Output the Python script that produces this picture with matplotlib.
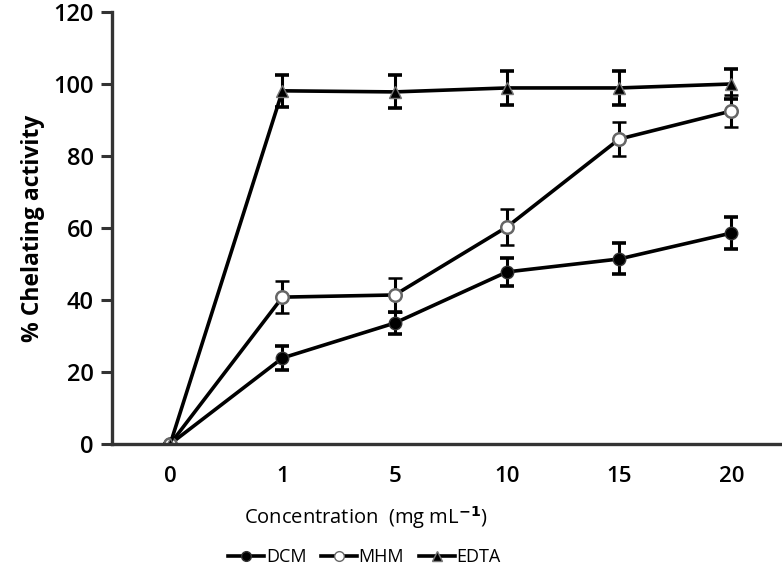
import matplotlib.pyplot as plt
from matplotlib.lines import Line2D
import numpy as np

plt.rcParams['font.family'] = ['Open Sans', 'DejaVu Sans']

concentrations = ['0', '1', '5', '10', '15', '20']

dcm = [0, 23.9, 33.6, 47.8, 51.4, 58.6]
dcm_err = [0, 3.3, 3.0, 4.0, 4.3, 4.4]

mhm = [0, 40.8, 41.4, 60.3, 84.7, 92.5]
mhm_err = [0, 4.4, 4.6, 5.0, 4.8, 4.4]

edta = [0, 98.1, 97.8, 98.9, 98.9, 100.0]
edta_err = [0, 4.4, 4.6, 4.8, 4.6, 4.2]

x = np.arange(len(concentrations))

fig = plt.figure(figsize=(7.82, 5.70), dpi=100)
ax = fig.add_axes([0.143, 0.221, 0.857, 0.758])

common = dict(color='black', lw=2.6, capsize=5, capthick=2.6, elinewidth=2.2, markersize=9)
ax.errorbar(x, dcm, yerr=dcm_err, marker='o', mfc='black', mec='#333333', **common)
ax.errorbar(x, mhm, yerr=mhm_err, marker='o', mfc='white', mec='#666666', mew=1.8, **common)
ax.errorbar(x, edta, yerr=edta_err, marker='^', mfc='black', mec='#777777', **common)

ax.set_xlim(-0.52, 5.45)
ax.set_ylim(0, 120)
ax.set_yticks(range(0, 121, 20))
ax.set_xticks(x)
ax.set_xticklabels(concentrations)

for side in ['top', 'right']:
    ax.spines[side].set_visible(False)
for side in ['left', 'bottom']:
    ax.spines[side].set_linewidth(2.4)
    ax.spines[side].set_color('#333333')
ax.tick_params(axis='y', length=8, width=2.2, color='#333333', labelsize=17, pad=5)
ax.tick_params(axis='x', length=0, labelsize=16, pad=16)
for lbl in ax.get_xticklabels() + ax.get_yticklabels():
    lbl.set_fontweight('semibold')

ax.set_ylabel('% Chelating activity', fontsize=16.5, fontweight='bold', labelpad=6)
ax.set_xlabel('Concentration  (mg mL$^{\\mathbf{-1}}$)', fontsize=14.5, fontweight='medium',
              labelpad=12, x=0.379)

handles = [
    Line2D([], [], color='black', lw=2.6, marker='o', mfc='black', mec='#333333', markersize=7),
    Line2D([], [], color='black', lw=2.6, marker='o', mfc='white', mec='#666666', markersize=7),
    Line2D([], [], color='black', lw=2.6, marker='^', mfc='black', mec='#777777', markersize=7),
]
fig.legend(handles, ['DCM', 'MHM', 'EDTA'], loc='center', bbox_to_anchor=(0.466, 0.023), ncol=3,
           frameon=False, fontsize=13, handlelength=2.0, handletextpad=0.1,
           columnspacing=0.8)

fig.savefig('out.png', dpi=100)
